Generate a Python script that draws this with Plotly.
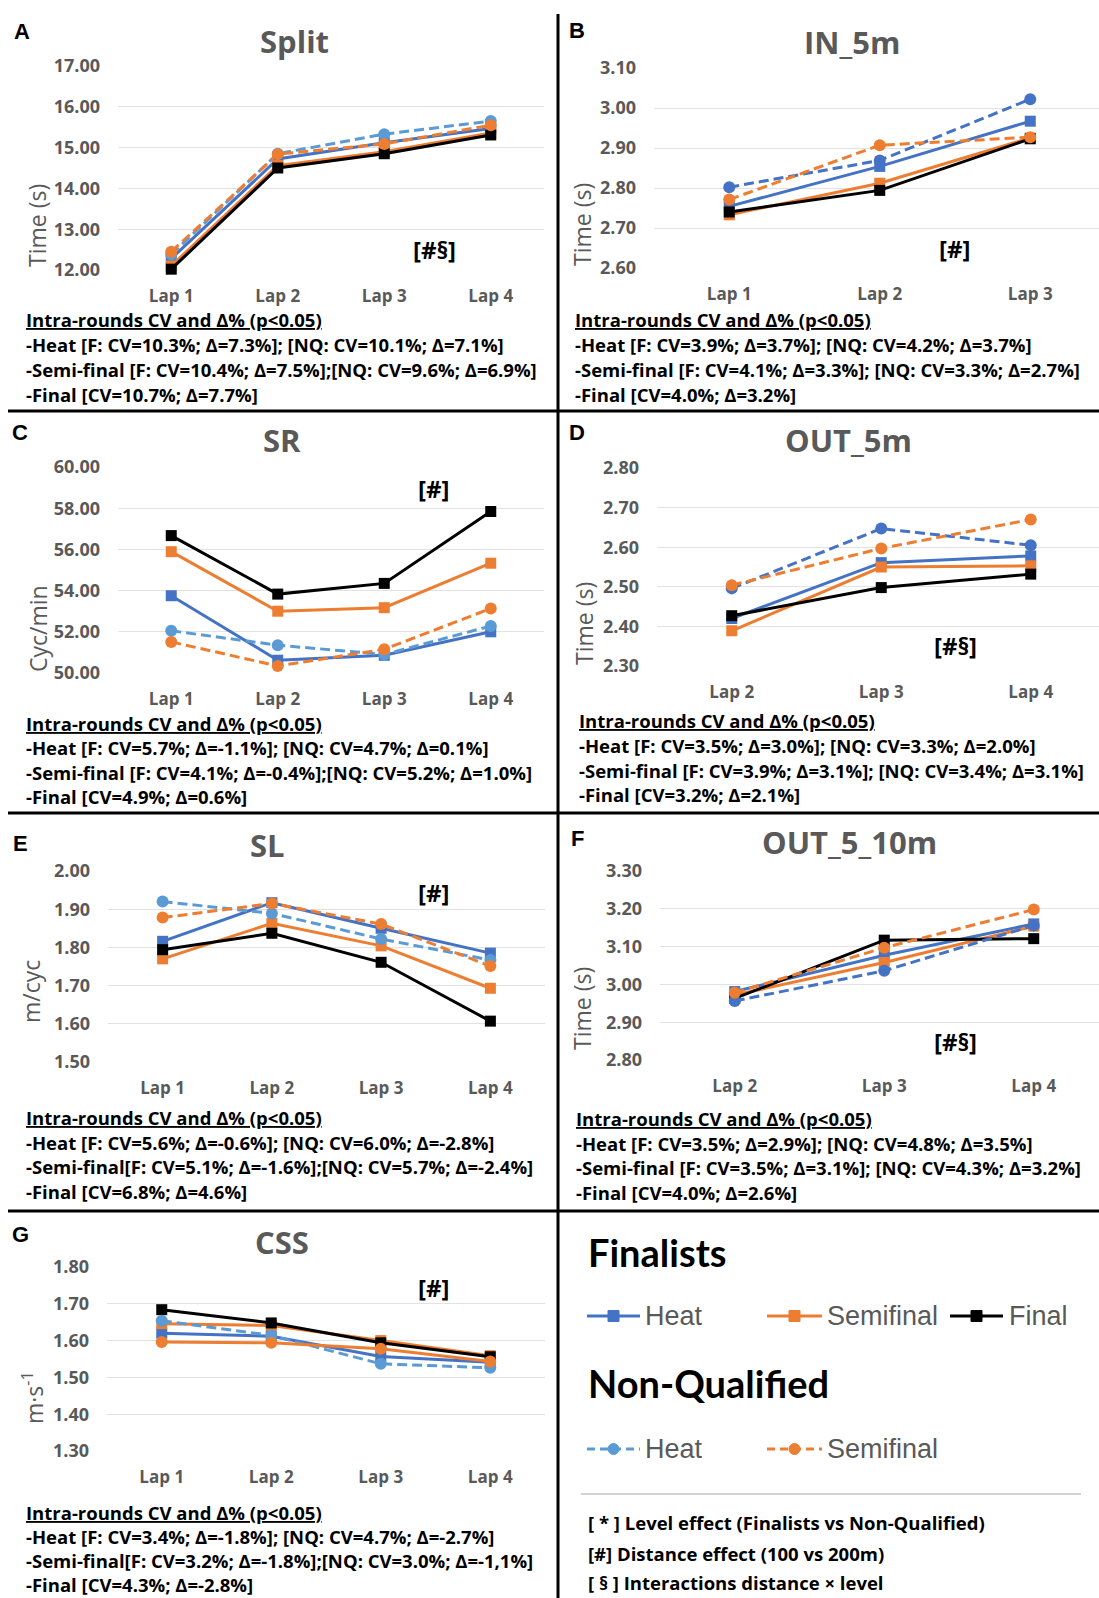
import plotly.graph_objects as go

# ---------------- data ----------------
laps4 = ["Lap 1", "Lap 2", "Lap 3", "Lap 4"]
laps_in = ["Lap 1", "Lap 2", "Lap 3"]
laps_out = ["Lap 2", "Lap 3", "Lap 4"]

split_f_heat = [12.28, 14.72, 15.12, 15.47]
split_f_semi = [12.10, 14.56, 14.90, 15.36]
split_f_final = [12.02, 14.50, 14.85, 15.31]
split_nq_heat = [12.38, 14.85, 15.33, 15.65]
split_nq_semi = [12.45, 14.84, 15.09, 15.55]

in5_f_heat = [2.754, 2.854, 2.967]
in5_f_semi = [2.733, 2.812, 2.925]
in5_f_final = [2.740, 2.794, 2.923]
in5_nq_heat = [2.802, 2.869, 3.022]
in5_nq_semi = [2.771, 2.907, 2.927]

sr_f_heat = [53.75, 50.62, 50.86, 52.00]
sr_f_semi = [55.89, 53.00, 53.17, 55.33]
sr_f_final = [56.67, 53.83, 54.35, 57.84]
sr_nq_heat = [52.05, 51.35, 50.90, 52.28]
sr_nq_semi = [51.51, 50.34, 51.15, 53.13]

out5_f_heat = [2.420, 2.561, 2.578]
out5_f_semi = [2.389, 2.550, 2.553]
out5_f_final = [2.427, 2.498, 2.532]
out5_nq_heat = [2.496, 2.647, 2.605]
out5_nq_semi = [2.504, 2.597, 2.670]

sl_f_heat = [1.816, 1.917, 1.850, 1.785]
sl_f_semi = [1.770, 1.863, 1.804, 1.693]
sl_f_final = [1.794, 1.837, 1.761, 1.607]
sl_nq_heat = [1.920, 1.889, 1.822, 1.767]
sl_nq_semi = [1.878, 1.915, 1.861, 1.751]

out10_f_heat = [2.981, 3.077, 3.160]
out10_f_semi = [2.972, 3.058, 3.154]
out10_f_final = [2.963, 3.117, 3.121]
out10_nq_heat = [2.956, 3.036, 3.156]
out10_nq_semi = [2.978, 3.097, 3.198]

css_f_heat = [1.620, 1.612, 1.557, 1.541]
css_f_semi = [1.646, 1.641, 1.600, 1.559]
css_f_final = [1.684, 1.648, 1.594, 1.556]
css_nq_heat = [1.654, 1.614, 1.537, 1.526]
css_nq_semi = [1.596, 1.594, 1.578, 1.543]

text_split = ["-Heat [F: CV=10.3%; Δ=7.3%]; [NQ: CV=10.1%; Δ=7.1%]",
              "-Semi-final [F: CV=10.4%; Δ=7.5%];[NQ: CV=9.6%; Δ=6.9%]",
              "-Final [CV=10.7%; Δ=7.7%]"]
text_in5 = ["-Heat [F: CV=3.9%; Δ=3.7%]; [NQ: CV=4.2%; Δ=3.7%]",
            "-Semi-final [F: CV=4.1%; Δ=3.3%]; [NQ: CV=3.3%; Δ=2.7%]",
            "-Final [CV=4.0%; Δ=3.2%]"]
text_sr = ["-Heat [F: CV=5.7%; Δ=-1.1%]; [NQ: CV=4.7%; Δ=0.1%]",
           "-Semi-final [F: CV=4.1%; Δ=-0.4%];[NQ: CV=5.2%; Δ=1.0%]",
           "-Final [CV=4.9%; Δ=0.6%]"]
text_out5 = ["-Heat [F: CV=3.5%; Δ=3.0%]; [NQ: CV=3.3%; Δ=2.0%]",
             "-Semi-final [F: CV=3.9%; Δ=3.1%]; [NQ: CV=3.4%; Δ=3.1%]",
             "-Final [CV=3.2%; Δ=2.1%]"]
text_sl = ["-Heat [F: CV=5.6%; Δ=-0.6%]; [NQ: CV=6.0%; Δ=-2.8%]",
           "-Semi-final[F: CV=5.1%; Δ=-1.6%];[NQ: CV=5.7%; Δ=-2.4%]",
           "-Final [CV=6.8%; Δ=4.6%]"]
text_out10 = ["-Heat [F: CV=3.5%; Δ=2.9%]; [NQ: CV=4.8%; Δ=3.5%]",
              "-Semi-final [F: CV=3.5%; Δ=3.1%]; [NQ: CV=4.3%; Δ=3.2%]",
              "-Final [CV=4.0%; Δ=2.6%]"]
text_css = ["-Heat [F: CV=3.4%; Δ=-1.8%]; [NQ: CV=4.7%; Δ=-2.7%]",
            "-Semi-final[F: CV=3.2%; Δ=-1.8%];[NQ: CV=3.0%; Δ=-1,1%]",
            "-Final [CV=4.3%; Δ=-2.8%]"]

# ---------------- styling ----------------
W, H = 1099, 1598
def fx(x): return x / W
def fy(y): return 1 - y / H

BLUE = "#4472C4"; LBLUE = "#5B9BD5"; ORANGE = "#ED7D31"; BLACK = "#000000"; GRAY = "#595959"
MAIN = "Open Sans"
LATO = "Lato"
ARIAL = "Liberation Sans"

panels = [
    dict(letter="A", title="Split", ytitle="Time (s)", cats=laps4,
         s=[split_f_heat, split_f_semi, split_f_final, split_nq_heat, split_nq_semi],
         yr=[12, 17], dt=1, L=118, R=544, T=66, B=270, xend=3.5,
         lp=(22, 32), tp=(294, 41), yp=(37, 226), sig="[#§]", sp=(434, 250),
         txt=text_split, tx=25, ty=[319, 345, 369, 394], nqc=LBLUE, nqs_dash=True),
    dict(letter="B", title="IN_5m", ytitle="Time (s)", cats=laps_in,
         s=[in5_f_heat, in5_f_semi, in5_f_final, in5_nq_heat, in5_nq_semi],
         yr=[2.6, 3.1], dt=0.1, L=654, R=1099, T=68, B=268, xend=-0.5 + 445 / 150.5,
         lp=(577, 31), tp=(852, 42), yp=(582, 224), sig="[#]", sp=(954, 248),
         txt=text_in5, tx=574, ty=[319, 345, 369, 394], nqc=BLUE, nqs_dash=True),
    dict(letter="C", title="SR", ytitle="Cyc/min", cats=laps4,
         s=[sr_f_heat, sr_f_semi, sr_f_final, sr_nq_heat, sr_nq_semi],
         yr=[50, 60], dt=2, L=118, R=544, T=467, B=673, xend=3.5,
         lp=(20, 432), tp=(282, 440), yp=(38, 629), sig="[#]", sp=(433, 488),
         txt=text_sr, tx=25, ty=[723, 747, 772, 796], nqc=LBLUE, nqs_dash=True),
    dict(letter="D", title="OUT_5m", ytitle="Time (s)", cats=laps_out,
         s=[out5_f_heat, out5_f_semi, out5_f_final, out5_nq_heat, out5_nq_semi],
         yr=[2.3, 2.8], dt=0.1, L=657, R=1099, T=468, B=666, xend=-0.5 + 442 / 149.5,
         lp=(577, 432), tp=(848, 440), yp=(584, 624), sig="[#§]", sp=(955, 645),
         txt=text_out5, tx=578, ty=[720, 745, 770, 794], nqc=BLUE, nqs_dash=True),
    dict(letter="E", title="SL", ytitle="m/cyc", cats=laps4,
         s=[sl_f_heat, sl_f_semi, sl_f_final, sl_nq_heat, sl_nq_semi],
         yr=[1.5, 2.0], dt=0.1, L=108, R=545, T=871, B=1062, xend=3.5,
         lp=(20, 843), tp=(267, 845), yp=(31, 992), sig="[#]", sp=(433, 892),
         txt=text_sl, tx=25, ty=[1117, 1142, 1166, 1191], nqc=LBLUE, nqs_dash=True),
    dict(letter="F", title="OUT_5_10m", ytitle="Time (s)", cats=laps_out,
         s=[out10_f_heat, out10_f_semi, out10_f_final, out10_nq_heat, out10_nq_semi],
         yr=[2.8, 3.3], dt=0.1, L=660, R=1099, T=871, B=1060, xend=-0.5 + 439 / 149.5,
         lp=(577, 838), tp=(849, 842), yp=(582, 1008), sig="[#§]", sp=(955, 1041),
         txt=text_out10, tx=575, ty=[1118, 1143, 1167, 1192], nqc=BLUE, nqs_dash=True),
    dict(letter="G", title="CSS", ytitle="m·s<sup>-1</sup>", cats=laps4,
         s=[css_f_heat, css_f_semi, css_f_final, css_nq_heat, css_nq_semi],
         yr=[1.3, 1.8], dt=0.1, L=107, R=545, T=1267, B=1451, xend=3.5,
         lp=(20, 1234), tp=(282, 1242), yp=(33, 1398), sig="[#]", sp=(433, 1287),
         txt=text_css, tx=25, ty=[1512, 1536, 1560, 1584], nqc=LBLUE, nqs_dash=False),
]

fig = go.Figure()
annotations = []
shapes = []
DASH = "10px,5px"

for i, p in enumerate(panels, start=1):
    xa = "x" if i == 1 else f"x{i}"
    ya = "y" if i == 1 else f"y{i}"
    styles = [
        (BLUE, "solid", "square", 11),
        (ORANGE, "solid", "square", 11),
        (BLACK, "solid", "square", 11),
        (p["nqc"], DASH, "circle", 12),
        (ORANGE, DASH if p["nqs_dash"] else "solid", "circle", 12),
    ]
    for vals, (c, dash, sym, ms) in zip(p["s"], styles):
        fig.add_trace(go.Scatter(
            x=p["cats"], y=vals, xaxis=xa, yaxis=ya, mode="lines+markers",
            line=dict(color=c, width=3, dash=dash),
            marker=dict(symbol=sym, size=ms, color=c),
            cliponaxis=False, showlegend=False, hoverinfo="skip"))
    fig.layout[f"xaxis{'' if i == 1 else i}"] = dict(
        domain=[fx(p["L"]), fx(p["R"])], anchor=ya, type="category",
        range=[-0.5, p["xend"]], showgrid=False, zeroline=False, showline=False,
        ticks="", ticklabelstandoff=14,
        tickfont=dict(family=MAIN, size=17, color=GRAY, weight="bold"))
    fig.layout[f"yaxis{'' if i == 1 else i}"] = dict(
        domain=[fy(p["B"]), fy(p["T"])], anchor=xa, range=p["yr"], dtick=p["dt"],
        tick0=p["yr"][0], tickformat=".2f", showgrid=True, gridcolor="#E2E2E2",
        gridwidth=1, zeroline=False, showline=False, ticks="", ticklabelstandoff=17,
        tickfont=dict(family=MAIN, size=18, color=GRAY, weight="bold"))

    annotations.append(dict(text=f"<b>{p['letter']}</b>", x=fx(p["lp"][0]), y=fy(p["lp"][1]),
                            xref="paper", yref="paper", showarrow=False, xanchor="center", yanchor="middle",
                            font=dict(family=ARIAL, size=22, color=BLACK)))
    annotations.append(dict(text=f"<b>{p['title']}</b>", x=fx(p["tp"][0]), y=fy(p["tp"][1]),
                            xref="paper", yref="paper", showarrow=False, xanchor="center", yanchor="middle",
                            font=dict(family=MAIN, size=31, color=GRAY)))
    annotations.append(dict(text=p["ytitle"], x=fx(p["yp"][0]), y=fy(p["yp"][1]), textangle=-90,
                            xref="paper", yref="paper", showarrow=False, xanchor="center", yanchor="middle",
                            font=dict(family=MAIN, size=23, color=GRAY)))
    annotations.append(dict(text=f"<b>{p['sig']}</b>", x=fx(p["sp"][0]), y=fy(p["sp"][1]),
                            xref="paper", yref="paper", showarrow=False, xanchor="center", yanchor="middle",
                            font=dict(family=MAIN, size=24, color=BLACK)))
    lines = ["<u>Intra-rounds CV and Δ% (p<0.05)</u>"] + p["txt"]
    for t, yy in zip(lines, p["ty"]):
        annotations.append(dict(text=f"<b>{t}</b>", x=fx(p["tx"]), y=fy(yy),
                                xref="paper", yref="paper", showarrow=False, xanchor="left", yanchor="middle",
                                borderpad=0, font=dict(family=MAIN, size=18.5, color=BLACK)))

# dividers
shapes.append(dict(type="line", xref="paper", yref="paper", x0=fx(558), x1=fx(558), y0=fy(14), y1=fy(1598),
                   line=dict(color=BLACK, width=3)))
for yy in [411, 813, 1211]:
    shapes.append(dict(type="line", xref="paper", yref="paper", x0=fx(8), x1=fx(1099), y0=fy(yy), y1=fy(yy),
                       line=dict(color=BLACK, width=3)))

# legend panel
def leg_sample(x0, x1, y, color, dash, sym):
    shapes.append(dict(type="line", xref="paper", yref="paper", x0=fx(x0), x1=fx(x1), y0=fy(y), y1=fy(y),
                       line=dict(color=color, width=3, dash=dash)))
    xc = (x0 + x1) / 2
    r = 5.5
    shapes.append(dict(type="rect" if sym == "square" else "circle", xref="paper", yref="paper",
                       x0=fx(xc - r), x1=fx(xc + r), y0=fy(y + r), y1=fy(y - r),
                       fillcolor=color, line=dict(color=color, width=1)))

def leg_text(t, x, y, size=27, fam=ARIAL, color=GRAY, bold=False):
    annotations.append(dict(text=f"<b>{t}</b>" if bold else t, x=fx(x), y=fy(y), xref="paper", yref="paper",
                            showarrow=False, xanchor="left", yanchor="middle",
                            font=dict(family=fam, size=size, color=color)))

leg_text("Finalists", 586, 1252, size=38, fam=LATO, color=BLACK, bold=True)
leg_sample(587, 640, 1316, BLUE, "solid", "square"); leg_text("Heat", 643, 1316)
leg_sample(767, 822, 1316, ORANGE, "solid", "square"); leg_text("Semifinal", 825, 1316)
leg_sample(950, 1003, 1316, BLACK, "solid", "square"); leg_text("Final", 1007, 1316)
leg_text("Non-Qualified", 586, 1383, size=38, fam=LATO, color=BLACK, bold=True)
leg_sample(587, 640, 1449, LBLUE, "8px,5px", "circle"); leg_text("Heat", 643, 1449)
leg_sample(767, 822, 1449, ORANGE, "8px,5px", "circle"); leg_text("Semifinal", 825, 1449)
shapes.append(dict(type="line", xref="paper", yref="paper", x0=fx(581), x1=fx(1081), y0=fy(1494), y1=fy(1494),
                   line=dict(color="#A6A6A6", width=1)))
leg_text("[ * ] Level effect (Finalists vs Non-Qualified)", 586, 1522, size=18.5, fam=MAIN, color=BLACK, bold=True)
leg_text("[#] Distance effect (100 vs 200m)", 586, 1553, size=18.5, fam=MAIN, color=BLACK, bold=True)
leg_text("[ § ] Interactions distance × level", 586, 1582, size=18.5, fam=MAIN, color=BLACK, bold=True)

fig.update_layout(width=W, height=H, margin=dict(l=0, r=0, t=0, b=0, autoexpand=False),
                  paper_bgcolor="white", plot_bgcolor="white",
                  annotations=annotations, shapes=shapes, showlegend=False)
fig.write_html("out.html", config={"displayModeBar": False},
               post_script="document.body.style.margin='0px';document.body.style.overflow='hidden';")
